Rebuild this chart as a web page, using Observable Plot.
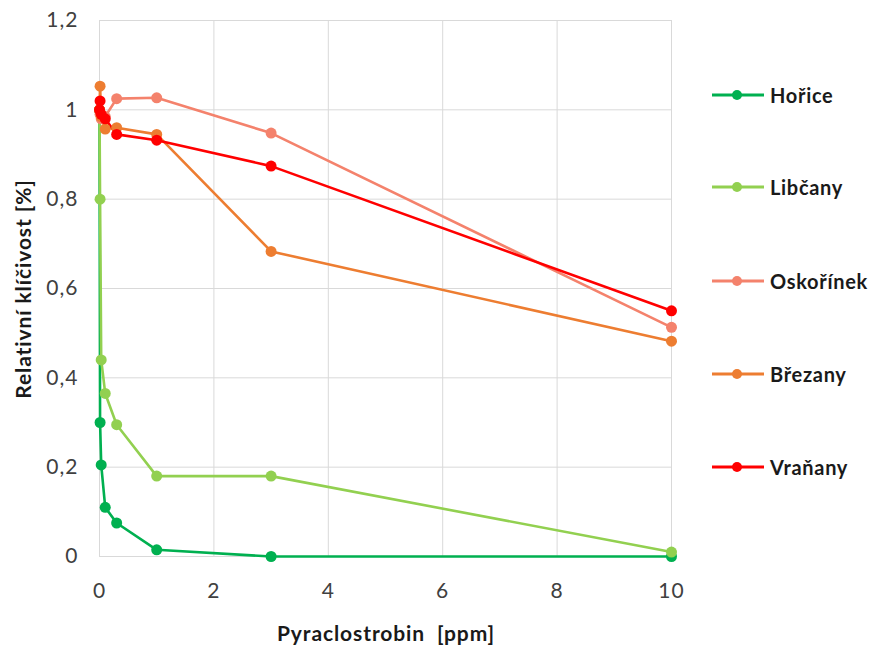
<!DOCTYPE html>
<html>
<head>
<meta charset="utf-8">
<script src="https://cdn.jsdelivr.net/npm/d3@7"></script>
<script src="https://cdn.jsdelivr.net/npm/@observablehq/plot@0.6"></script>
<style>
  body { margin: 0; background: #fff; }
  #wrap { position: relative; width: 882px; height: 645px; font-family: Lato, "Open Sans", sans-serif; }
  .ttl { position: absolute; font-weight: bold; font-size: 21px; letter-spacing: 0.9px; color: #1a1a1a; white-space: pre; }
  .leg { position: absolute; display: flex; align-items: center; font-weight: bold; font-size: 20px; letter-spacing: 0.7px; color: #1a1a1a; }
  svg text { letter-spacing: 1px; }
</style>
</head>
<body>
<div id="wrap"></div>
<script>
const doses = [0, 0.01, 0.03, 0.1, 0.3, 1, 3, 10];
const seriesNames = ["Hořice", "Libčany", "Oskořínek", "Březany", "Vraňany"];
const seriesColors = ["#00b050", "#92d050", "#f4826c", "#ed7d31", "#ff0000"];
const horice    = [1, 0.30, 0.205, 0.11, 0.075, 0.015, 0, 0];
const libcany   = [1, 0.80, 0.44, 0.365, 0.295, 0.18, 0.18, 0.01];
const oskorinek = [1, 0.99, 0.98, 0.985, 1.025, 1.027, 0.948, 0.513];
const brezany   = [1, 1.053, 0.985, 0.957, 0.96, 0.945, 0.683, 0.482];
const vranany   = [1, 1.02, 0.99, 0.98, 0.945, 0.932, 0.874, 0.55];
const xTicks = [0, 2, 4, 6, 8, 10];
const yTicks = [0, 0.2, 0.4, 0.6, 0.8, 1, 1.2];
const xTitle = "Pyraclostrobin  [ppm]";
const yTitle = "Relativní klíčivost [%]";

const values = [horice, libcany, oskorinek, brezany, vranany];
const data = [];
seriesNames.forEach((s, i) => doses.forEach((d, j) => data.push({series: s, dose: d, value: values[i][j]})));

const fmt = v => String(+v.toFixed(1)).replace(".", ",");

const chart = Plot.plot({
  width: 882, height: 645,
  marginLeft: 99, marginRight: 211, marginTop: 20, marginBottom: 89,
  style: {fontFamily: "Lato, 'Open Sans', sans-serif", fontSize: "21px", color: "#404040", background: "white"},
  x: {domain: [0, 10]},
  y: {domain: [0, 1.2]},
  color: {domain: seriesNames, range: seriesColors},
  marks: [
    Plot.gridX(xTicks, {stroke: "#d9d9d9", strokeOpacity: 1, strokeWidth: 1}),
    Plot.gridY(yTicks, {stroke: "#d9d9d9", strokeOpacity: 1, strokeWidth: 1}),
    Plot.axisX(xTicks, {tickSize: 0, tickPadding: 27, label: null, fill: "#404040"}),
    Plot.axisY(yTicks, {tickSize: 0, tickPadding: 21, label: null, tickFormat: fmt, fill: "#404040"}),
    Plot.line(data, {x: "dose", y: "value", z: "series", stroke: "series", strokeWidth: 2.6}),
    Plot.dot(data, {x: "dose", y: "value", fill: "series", r: 5.5})
  ]
});

const wrap = document.getElementById("wrap");
wrap.appendChild(chart);

const xt = document.createElement("div");
xt.className = "ttl";
xt.textContent = xTitle;
xt.style.left = "386px"; xt.style.top = "632px"; xt.style.transform = "translate(-50%, -50%)";
wrap.appendChild(xt);

const yt = document.createElement("div");
yt.className = "ttl";
yt.textContent = yTitle;
yt.style.left = "22px"; yt.style.top = "289px";
yt.style.transform = "translate(-50%, -50%) rotate(-90deg)";
wrap.appendChild(yt);

const legY = [95, 187, 281, 374, 467];
seriesNames.forEach((s, i) => {
  const el = document.createElement("div");
  el.className = "leg";
  el.style.left = "711px";
  el.style.top = (legY[i] - 12) + "px";
  el.style.height = "24px";
  el.innerHTML = `<svg width="54" height="24" style="margin-right:5px"><line x1="1" x2="53" y1="12" y2="12" stroke="${seriesColors[i]}" stroke-width="3"/><circle cx="26" cy="12" r="5" fill="${seriesColors[i]}"/></svg><span></span>`;
  el.querySelector("span").textContent = s;
  wrap.appendChild(el);
});
</script>
</body>
</html>
